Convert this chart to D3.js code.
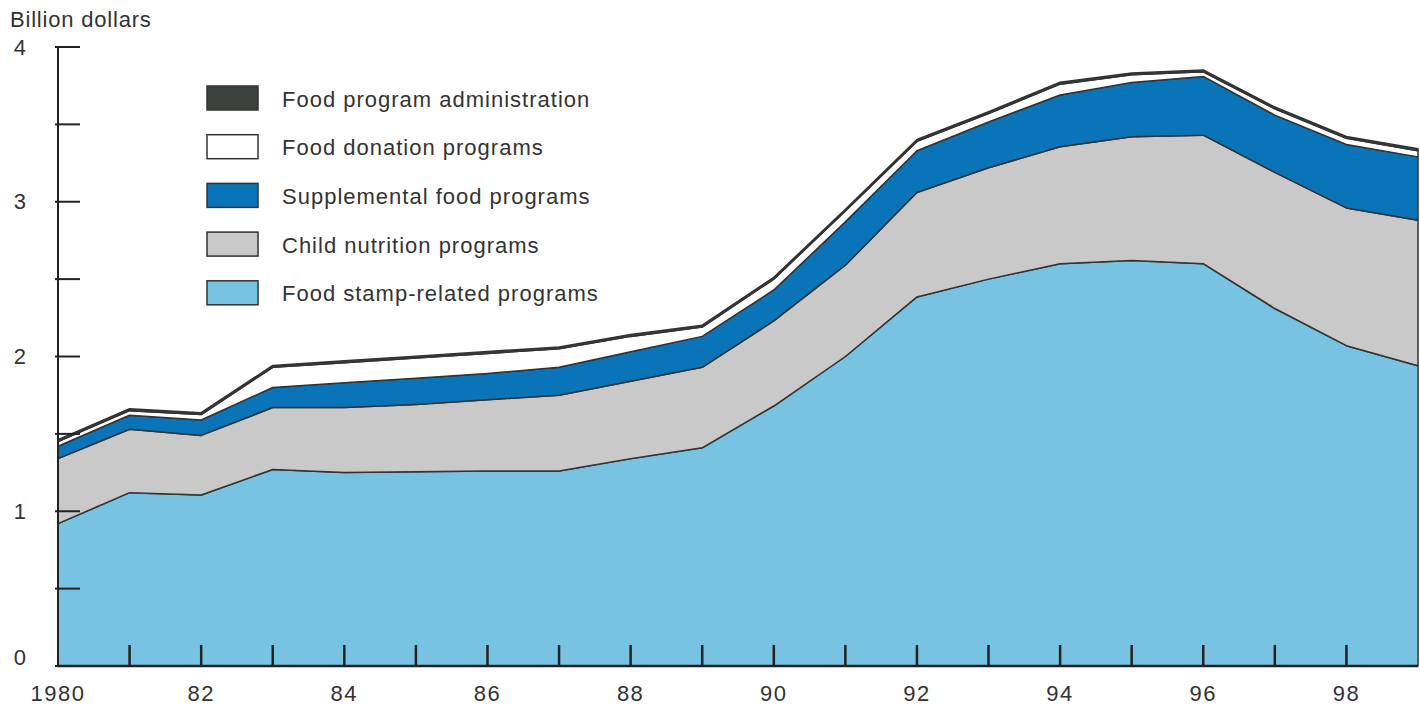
<!DOCTYPE html>
<html>
<head>
<meta charset="utf-8">
<script src="https://cdn.jsdelivr.net/npm/d3@7"></script>
<style>
  body { margin: 0; background: #fff; }
  svg { display: block; font-family: "Liberation Sans", Arial, sans-serif; }
  text { fill: #333; }
</style>
</head>
<body>
<script>
// data (billion dollars)
var years = d3.range(1980, 2000);
var foodStamp   = [0.92, 1.12, 1.105, 1.27, 1.25, 1.255, 1.26, 1.26, 1.34, 1.41, 1.68, 2.00, 2.385, 2.50, 2.60, 2.62, 2.60, 2.31, 2.07, 1.94];
var childNutr   = [0.42, 0.41, 0.385, 0.40, 0.42, 0.435, 0.46, 0.49, 0.50, 0.52, 0.55, 0.59, 0.675, 0.72, 0.755, 0.80, 0.83, 0.88, 0.89, 0.94];
var supplFood   = [0.08, 0.09, 0.10, 0.13, 0.16, 0.17, 0.17, 0.18, 0.19, 0.20, 0.20, 0.28, 0.27, 0.295, 0.335, 0.35, 0.38, 0.37, 0.41, 0.41];
var donation    = [0.03, 0.03, 0.035, 0.13, 0.13, 0.13, 0.13, 0.12, 0.10, 0.06, 0.07, 0.07, 0.06, 0.055, 0.07, 0.05, 0.03, 0.04, 0.04, 0.04];
var admin       = [0.012, 0.012, 0.012, 0.012, 0.012, 0.012, 0.012, 0.012, 0.012, 0.012, 0.012, 0.012, 0.012, 0.012, 0.012, 0.012, 0.012, 0.012, 0.012, 0.012];

var keys = ['stamp', 'child', 'suppl', 'donation', 'admin'];
var series = { stamp: foodStamp, child: childNutr, suppl: supplFood, donation: donation, admin: admin };
var colors = { stamp: '#79c3e2', child: '#c9c9c9', suppl: '#0a74b9', donation: '#ffffff', admin: '#3d413d' };

var legendItems = [
  { key: 'admin', label: 'Food program administration' },
  { key: 'donation', label: 'Food donation programs' },
  { key: 'suppl', label: 'Supplemental food programs' },
  { key: 'child', label: 'Child nutrition programs' },
  { key: 'stamp', label: 'Food stamp-related programs' }
];

var yTicks = [0, 1, 2, 3, 4];
var yMinorTicks = [0.5, 1.5, 2.5, 3.5];
var xLabelYears = d3.range(1980, 1999, 2);

var width = 1420, height = 708;

var rows = years.map(function(y, i) {
  var r = { year: y };
  keys.forEach(function(k) { r[k] = series[k][i]; });
  return r;
});

var stacked = d3.stack().keys(keys)(rows);

var x = d3.scaleLinear().domain([1980, 1999]).range([58, 1418]);
var y = d3.scaleLinear().domain([0, 4]).range([666, 47]);

var svg = d3.select('body').append('svg')
    .attr('width', width)
    .attr('height', height);

var area = d3.area()
    .x(function(d) { return x(d.data.year); })
    .y0(function(d) { return y(d[0]); })
    .y1(function(d) { return y(d[1]); });

svg.append('g').selectAll('path')
  .data(stacked)
  .enter()
  .append('path')
    .attr('d', area)
    .style('fill', function(d) { return colors[d.key]; })
    .style('stroke', '#333')
    .style('stroke-width', 1.5)
    .style('stroke-linejoin', 'round');

// y axis
var yAxis = svg.append('g').attr('class', 'y-axis');
yAxis.append('line')
    .attr('x1', 58).attr('x2', 58)
    .attr('y1', y(4)).attr('y2', y(0))
    .style('stroke', '#222').style('stroke-width', 2);

yAxis.selectAll('.tick')
  .data(yTicks.concat(yMinorTicks))
  .enter()
  .append('line')
    .attr('x1', 55).attr('x2', 80)
    .attr('y1', function(d) { return y(d); })
    .attr('y2', function(d) { return y(d); })
    .style('stroke', '#222').style('stroke-width', 2);

yAxis.selectAll('text')
  .data(yTicks)
  .enter()
  .append('text')
    .attr('x', 26)
    .attr('y', function(d) { return d === 0 ? y(d) - 9 : y(d); })
    .attr('dy', '0.35em')
    .attr('text-anchor', 'end')
    .style('font-size', '22px')
    .text(function(d) { return d; });

svg.append('text')
    .attr('x', 10).attr('y', 27)
    .style('font-size', '22px')
    .style('letter-spacing', '0.8px')
    .text('Billion dollars');

// x axis
var xAxis = svg.append('g').attr('class', 'x-axis');
xAxis.append('line')
    .attr('x1', 57).attr('x2', 1418)
    .attr('y1', y(0)).attr('y2', y(0))
    .style('stroke', '#222').style('stroke-width', 2.5);

xAxis.selectAll('.tick')
  .data(years.slice(1, 19))
  .enter()
  .append('line')
    .attr('x1', function(d) { return x(d); })
    .attr('x2', function(d) { return x(d); })
    .attr('y1', y(0) - 21).attr('y2', y(0))
    .style('stroke', '#222').style('stroke-width', 2.5);

xAxis.selectAll('text')
  .data(xLabelYears)
  .enter()
  .append('text')
    .attr('x', function(d) { return x(d); })
    .attr('y', 701)
    .attr('text-anchor', 'middle')
    .style('font-size', '22px')
    .style('letter-spacing', '1.5px')
    .text(function(d) { return d === 1980 ? '1980' : String(d).slice(2); });

// legend
var legend = svg.append('g').attr('transform', 'translate(207,86)');
var item = legend.selectAll('g')
  .data(legendItems)
  .enter()
  .append('g')
    .attr('transform', function(d, i) { return 'translate(0,' + (i * 48.7) + ')'; });

item.append('rect')
    .attr('width', 51).attr('height', 24)
    .style('fill', function(d) { return colors[d.key]; })
    .style('stroke', '#333')
    .style('stroke-width', 1.5);

item.append('text')
    .attr('x', 75).attr('y', 13)
    .attr('dy', '0.35em')
    .style('font-size', '22px')
    .style('letter-spacing', '1px')
    .text(function(d) { return d.label; });
</script>
</body>
</html>
